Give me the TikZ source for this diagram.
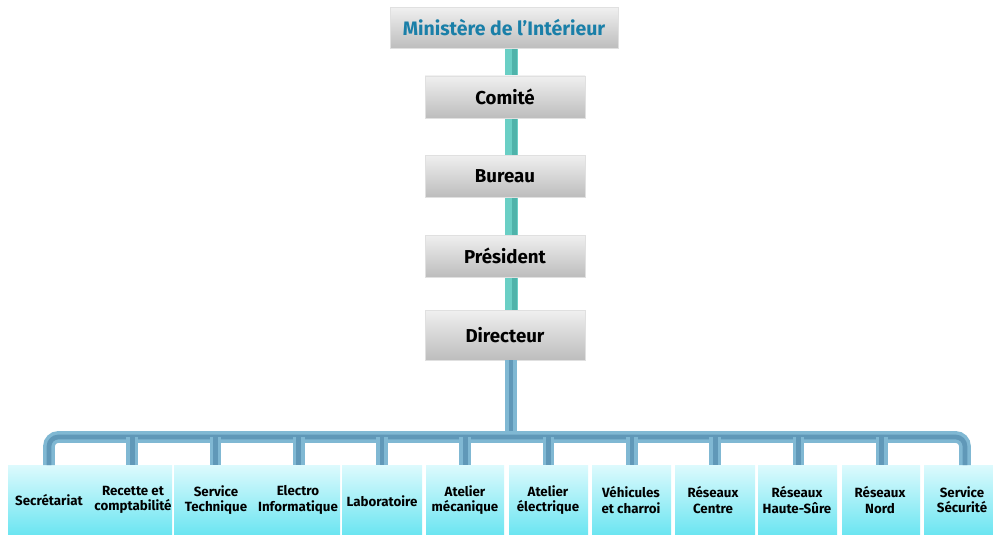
\documentclass[tikz,border=0pt]{standalone}
\usepackage{fontspec}
\setmainfont{Fira Sans}
\usetikzlibrary{positioning}

\definecolor{titleblue}{HTML}{1A7FA8}
\definecolor{stemlight}{HTML}{6ACFC5}
\definecolor{stemdark}{HTML}{4FB3AA}
\definecolor{buslight}{HTML}{80B8D3}
\definecolor{busdark}{HTML}{6098B8}
\definecolor{unittop}{HTML}{DDFAFD}
\definecolor{unitbottom}{HTML}{6BE5F1}

\begin{document}
\begin{tikzpicture}[x=0.75pt,y=-0.75pt,
    greybox/.style={draw=black!12, top color=black!6, bottom color=black!26,
      minimum width=120pt, minimum height=31.5pt, inner sep=0pt,
      font=\fontsize{14}{16}\selectfont\bfseries},
    titlebox/.style={greybox, minimum width=171pt, minimum height=30.75pt,
      text=titleblue, font=\fontsize{14.6}{16}\selectfont\bfseries},
    stem/.style={line width=9.75pt, draw=stemlight,
      postaction={draw=stemdark, line width=4pt, transform canvas={xshift=2.8pt}}},
    bus/.style={line width=8.8pt, draw=buslight, rounded corners=7pt,
      postaction={draw=busdark, line width=3.5pt}},
    unitfill/.style={top color=unittop, bottom color=unitbottom},
    unit/.style={align=center, inner sep=0pt,
      font=\fontsize{10}{11.5}\selectfont\bfseries}]

  \useasboundingbox (0,0) rectangle (993,535);

  % Draw the hierarchy at the top
  \coordinate (axis) at (511,0);
  \node[titlebox] (minist) at (504,28) {Ministère de l’Intérieur};
  \node[greybox] (comite) at (505,97) {Comité};
  \node[greybox] (bureau) at (505,176) {Bureau};
  \node[greybox] (pres) at (505,256) {Président};
  \node[greybox, minimum height=37.5pt] (dir) at (505,335) {Directeur};

  % Draw the teal stems between the boxes
  \draw[stem] (minist.south -| axis) -- (comite.north -| axis);
  \draw[stem] (comite.south -| axis) -- (bureau.north -| axis);
  \draw[stem] (bureau.south -| axis) -- (pres.north -| axis);
  \draw[stem] (pres.south -| axis) -- (dir.north -| axis);
  % redraw the boxes over the stem ends
  \node[titlebox] at (minist) {Ministère de l’Intérieur};
  \node[greybox] at (comite) {Comité};
  \node[greybox] at (bureau) {Bureau};
  \node[greybox] at (pres) {Président};
  \node[greybox, minimum height=37.5pt] at (dir) {Directeur};

  % Draw the unit boxes
  \foreach \a/\b in {8/172, 174/340, 342/422, 426/504, 509/588,
                     592/671, 675/755, 758/837, 842/920, 924/993}
    \shade[unitfill] (\a,465) rectangle (\b,535);

  % Draw the bus and its drops
  \foreach \i in {1,...,12}
    \coordinate (t\i) at ({49+83.27*(\i-1)},465);
  \coordinate (busy) at (0,437);
  \draw[bus] (dir.south -| axis) -- (busy -| axis);
  \draw[bus] (t1) -- (busy -| t1) -- (busy -| t12) -- (t12);
  \foreach \i in {2,...,11}
    \draw[bus] (busy -| t\i) -- (t\i);

  % Draw the unit labels
  \node[unit] (u1) at (49,500) {Secrétariat};
  \node[unit] (u2) at (133,500) {Recette et\\comptabilité};
  \node[unit] (u3) at (216,500) {Service\\Technique};
  \node[unit] (u4) at (298,500) {Electro\\Informatique};
  \node[unit] (u5) at (382,501) {Laboratoire};
  \node[unit] (u6) at (465,500) {Atelier\\mécanique};
  \node[unit] (u7) at (548,500) {Atelier\\électrique};
  \node[unit] (u8) at (631,500) {Véhicules\\et charroi};
  \node[unit] (u9) at (713,500) {Réseaux\\Centre};
  \node[unit] (u10) at (797,500) {Réseaux\\Haute-Sûre};
  \node[unit] (u11) at (880,500) {Réseaux\\Nord};
  \node[unit] (u12) at (962,500) {Service\\Sécurité};

\end{tikzpicture}
\end{document}
